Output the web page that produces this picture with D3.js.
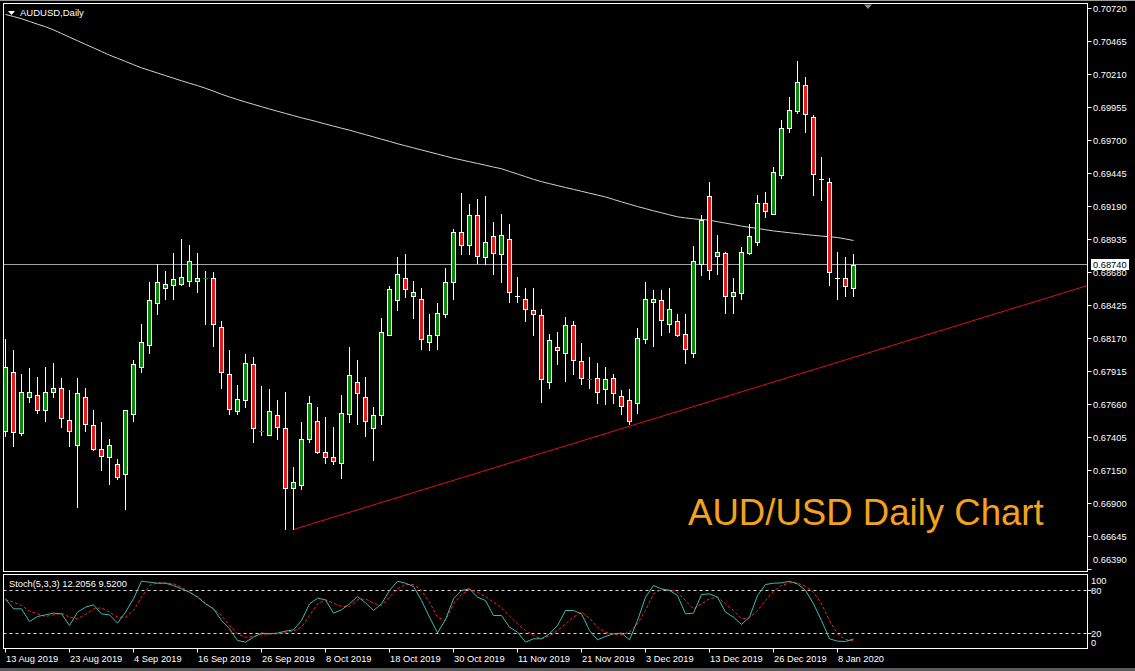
<!DOCTYPE html>
<html><head><meta charset="utf-8">
<script src="https://cdn.jsdelivr.net/npm/d3@7"></script>
<style>html,body{margin:0;padding:0;background:#000;overflow:hidden}svg{display:block}</style>
</head><body><svg id="c" width="1135" height="671"></svg>
<script>
const symbolTitle = "AUDUSD,Daily";
const chartLabel = "AUD/USD Daily Chart";
const stochTitle = "Stoch(5,3,3) 12.2056 9.5200";
const firstDay = "2019-08-13";
const holidays = ["2019-12-25", "2020-01-01"];

const open = [0.67462,0.67910,0.67439,0.67717,0.67740,0.67617,0.67756,0.67794,0.67547,0.67354,
0.67717,0.67501,0.67316,0.67254,0.67207,0.67130,0.67586,0.67949,0.68126,0.68443,
0.68566,0.68589,0.68597,0.68620,0.68620,0.68628,0.68643,0.68265,0.67895,0.67609,
0.67694,0.67979,0.67454,0.67431,0.67578,0.67485,0.67022,0.67045,0.67393,0.67532,
0.67300,0.67261,0.67215,0.67593,0.67840,0.67717,0.67485,0.67578,0.68203,0.68466,
0.68643,0.68504,0.68481,0.68142,0.68203,0.68358,0.68612,0.68991,0.68898,0.69122,
0.68805,0.68960,0.68821,0.68944,0.68504,0.68481,0.68389,0.68350,0.67840,0.68103,
0.68064,0.68273,0.67995,0.67856,0.67871,0.67779,0.67864,0.67725,0.67694,0.67671,
0.68172,0.68458,0.68466,0.68288,0.68304,0.68211,0.68064,0.68751,0.69269,0.68813,
0.68829,0.68497,0.68520,0.68836,0.68914,0.69215,0.69137,0.69431,0.69794,0.69925,
0.70126,0.69886,0.69400,0.69377,0.68643,0.68643,0.68566];
const high = [0.68172,0.68080,0.67895,0.67941,0.67879,0.67949,0.67987,0.67864,0.67771,0.67871,
0.67794,0.67617,0.67524,0.67393,0.67246,0.67624,0.68003,0.68288,0.68605,0.68751,
0.68697,0.68836,0.68937,0.68898,0.68829,0.68690,0.68682,0.68304,0.68080,0.67810,
0.68049,0.68026,0.67802,0.67786,0.67694,0.67763,0.67177,0.67524,0.67732,0.67647,
0.67563,0.67493,0.67740,0.68103,0.68010,0.67879,0.67640,0.68327,0.68574,0.68798,
0.68821,0.68620,0.68566,0.68358,0.68450,0.68713,0.69014,0.69292,0.69207,0.69246,
0.69276,0.69068,0.69130,0.69060,0.68651,0.68566,0.68566,0.68404,0.68211,0.68219,
0.68342,0.68304,0.68134,0.68026,0.67987,0.67949,0.67902,0.67771,0.67786,0.68257,
0.68612,0.68543,0.68543,0.68566,0.68365,0.68365,0.68890,0.69122,0.69377,0.68968,
0.68844,0.68636,0.68875,0.69060,0.69284,0.69300,0.69493,0.69863,0.70033,0.70311,
0.70195,0.69894,0.69570,0.69415,0.68844,0.68798,0.68821];
const low = [0.67416,0.67339,0.67431,0.67686,0.67601,0.67532,0.67717,0.67493,0.67346,0.66875,
0.67462,0.67308,0.67161,0.67053,0.67084,0.66860,0.67539,0.67910,0.68057,0.68365,
0.68481,0.68474,0.68589,0.68574,0.68528,0.68288,0.68111,0.67794,0.67593,0.67586,
0.67640,0.67377,0.67431,0.67424,0.67400,0.66698,0.66698,0.67014,0.67370,0.67285,
0.67215,0.67207,0.67092,0.67524,0.67509,0.67416,0.67231,0.67509,0.68196,0.68389,
0.68489,0.68327,0.68095,0.68080,0.68095,0.68342,0.68474,0.68821,0.68821,0.68759,
0.68751,0.68674,0.68605,0.68458,0.68458,0.68311,0.68196,0.67686,0.67794,0.67972,
0.67848,0.67895,0.67825,0.67794,0.67671,0.67663,0.67678,0.67586,0.67516,0.67601,
0.68134,0.68118,0.68196,0.68219,0.68188,0.67987,0.68026,0.68659,0.68628,0.68674,
0.68373,0.68373,0.68481,0.68821,0.68898,0.69107,0.69130,0.69408,0.69763,0.69917,
0.69770,0.69284,0.69238,0.68582,0.68481,0.68497,0.68504];
const close = [0.67956,0.67454,0.67756,0.67756,0.67624,0.67763,0.67794,0.67555,0.67462,0.67748,
0.67516,0.67316,0.67269,0.67354,0.67107,0.67617,0.67972,0.68142,0.68466,0.68605,
0.68597,0.68628,0.68651,0.68767,0.68643,0.68643,0.68288,0.67910,0.67632,0.67709,
0.67987,0.67478,0.67462,0.67609,0.67493,0.67022,0.67061,0.67400,0.67671,0.67300,
0.67261,0.67223,0.67601,0.67887,0.67748,0.67539,0.67578,0.68219,0.68551,0.68667,
0.68558,0.68535,0.68165,0.68203,0.68373,0.68612,0.68991,0.68898,0.69122,0.68813,
0.68921,0.68829,0.68975,0.68535,0.68504,0.68404,0.68365,0.67856,0.68157,0.68080,
0.68273,0.68010,0.67864,0.67857,0.67763,0.67856,0.67748,0.67655,0.67539,0.68180,
0.68481,0.68481,0.68319,0.68404,0.68203,0.68095,0.68767,0.69091,0.68705,0.68844,
0.68504,0.68535,0.68844,0.68960,0.69222,0.69153,0.69454,0.69794,0.69933,0.70156,
0.69902,0.69446,0.69400,0.68682,0.68643,0.68574,0.68740];
const movingAverage = [0.70674,0.70658,0.70641,0.70620,0.70599,0.70579,0.70555,0.70527,0.70499,0.70471,
0.70443,0.70416,0.70388,0.70360,0.70336,0.70311,0.70286,0.70262,0.70242,0.70222,
0.70202,0.70182,0.70162,0.70143,0.70125,0.70104,0.70082,0.70058,0.70037,0.70017,
0.69998,0.69980,0.69962,0.69944,0.69927,0.69910,0.69893,0.69876,0.69861,0.69845,
0.69828,0.69812,0.69796,0.69781,0.69763,0.69746,0.69729,0.69711,0.69694,0.69676,
0.69660,0.69644,0.69628,0.69612,0.69596,0.69580,0.69564,0.69551,0.69537,0.69524,
0.69510,0.69496,0.69483,0.69462,0.69442,0.69422,0.69401,0.69383,0.69368,0.69353,
0.69338,0.69324,0.69309,0.69294,0.69280,0.69265,0.69246,0.69227,0.69209,0.69191,
0.69175,0.69158,0.69143,0.69127,0.69112,0.69103,0.69096,0.69091,0.69086,0.69074,
0.69063,0.69052,0.69040,0.69031,0.69022,0.69012,0.69003,0.68996,0.68989,0.68982,
0.68975,0.68969,0.68963,0.68958,0.68952,0.68941,0.68929];
const stochK = [68.4,54.4,54.4,36.7,43.7,46,48.4,47.4,31.2,49.8,
56.7,60,47.4,46,34.4,49.8,68.4,93,91.6,90.2,
90.2,87,82.3,77.7,70.7,61.4,54.4,38.1,26.5,10.2,
7.9,14.9,20.5,19.5,20.5,23.3,25.1,38.1,61.4,69.3,
67,48.4,53,61.4,71.6,62.8,52.1,61.4,80,93,
90.2,85.6,66,42.8,20.9,39.5,68.4,80,82.3,70.7,
66,45.1,45.1,28.8,21.9,7.9,12.6,12.6,19.5,31.2,
52.1,52.1,47.4,24.2,11.2,15.8,19.5,20.5,11.2,38.1,
70.7,87,82.3,80,73,47.4,48.4,74.4,75.3,70.7,
49.8,42.8,32.6,42.8,73,88.4,90.2,90.7,93,89.3,
80,61.4,38.1,12.6,9.3,8.8,12.2056];
const stochD = [67,63.7,59.1,51.2,47.4,43.7,46,48.4,42.8,40.5,
46.5,54.4,55.8,49.8,42.8,42.8,52.1,70.7,87,90.7,
90.7,89.3,84.7,77.7,71.6,62.3,54.4,45.1,31.2,19.5,
14.9,15.8,18.6,19.5,19.5,21.9,23.3,28.8,45.1,61.4,
67,62.3,57.7,57.7,67,68.4,62.3,59.1,70.7,82.3,
88.4,88.4,80,63.7,42.8,38.1,61.4,74.4,81.4,77.7,
71.6,63.7,55.8,44.2,33.5,24.2,17.2,12.6,16.7,24.2,
33.5,42.8,49.8,41.4,28.8,21.9,18.6,18.6,21.4,33.5,
52.1,75.3,81.4,80.9,77.7,66,54.4,61.4,68.4,70.7,
61.4,52.1,40.5,41.9,52.1,66,79.1,87,90.7,90.7,
85.6,77.7,61.4,38.1,19.5,11.6,9.52];
const priceTicks = ["0.70720","0.70465","0.70210","0.69955","0.69700","0.69445","0.69190","0.68935","0.68680","0.68425","0.68170","0.67915","0.67660","0.67405","0.67150","0.66900","0.66645","0.66390"];
const dateTicks = ["13 Aug 2019","23 Aug 2019","4 Sep 2019","16 Sep 2019","26 Sep 2019","8 Oct 2019","18 Oct 2019","30 Oct 2019","11 Nov 2019","21 Nov 2019","3 Dec 2019","13 Dec 2019","26 Dec 2019","8 Jan 2020"];
const stochLevels = [80, 20];
const stochAxisLabels = ["100", "80", "20", "0"];
const bidPrice = 0.68740;
const trendAnchors = [{bar: 36, price: 0.66698}, {bar: 78, price: 0.67495}];

// ---- trading-day categories ----
const dates = [];
{
  const d = new Date(firstDay + "T00:00:00Z");
  while (dates.length < open.length) {
    const dow = d.getUTCDay();
    const iso = d.toISOString().slice(0, 10);
    if (dow !== 0 && dow !== 6 && !holidays.includes(iso)) dates.push(new Date(d));
    d.setUTCDate(d.getUTCDate() + 1);
  }
}
const fmt = d3.utcFormat("%-d %b %Y");
const dateLabels = dates.map(fmt);

// ---- layout ----
const W = 1135, H = 671;
const L = 3.5, R = 1087.5, mainTop = 3.5, mainBot = 571.5, stTop = 574.5, stBot = 648.5;
const FONT = "'Liberation Sans', Arial, sans-serif";

const x = d3.scaleLinear().domain([0, open.length - 1]).range([5.5, 5.5 + 8 * (open.length - 1)]);
const y = d3.scaleLinear().domain([0.66390, 0.70720]).range([8.5 + 0.0433 / 0.0000772, 8.5]);
const ys = d3.scaleLinear().domain([0, 100]).range([647.8, 576.2]);

const svg = d3.select("#c");
svg.append("rect").attr("width", W).attr("height", H).attr("fill", "#000");
svg.append("rect").attr("x", 0).attr("y", 0).attr("width", W).attr("height", 1).attr("fill", "#9a9a9a");
svg.append("rect").attr("x", 0).attr("y", 668).attr("width", W).attr("height", 3).attr("fill", "#5a5a5a");

const defs = svg.append("defs");
defs.append("clipPath").attr("id", "cm").append("rect")
  .attr("x", L + 0.5).attr("y", mainTop + 0.5).attr("width", R - L - 1).attr("height", mainBot - mainTop - 1);
defs.append("clipPath").attr("id", "cs").append("rect")
  .attr("x", L + 0.5).attr("y", stTop + 0.5).attr("width", R - L - 1).attr("height", stBot - stTop - 1);

// ---- main panel ----
const gm = svg.append("g").attr("clip-path", "url(#cm)");
const crisp = v => Math.round(v - 0.5) + 0.5;

// bid line
const yBid = crisp(y(bidPrice));
gm.append("line").attr("x1", L).attr("x2", R).attr("y1", yBid).attr("y2", yBid)
  .attr("stroke", "#a4a4a8").attr("stroke-width", 1);

// moving average
gm.append("path").datum(d3.range(movingAverage.length))
  .attr("d", d3.line().x(i => x(i)).y(i => y(movingAverage[i])))
  .attr("fill", "none").attr("stroke", "#d2d2d2").attr("stroke-width", 1);

// trend line (ray)
{
  const a = trendAnchors[0], b = trendAnchors[1];
  const endBar = x.invert(R);
  const endPrice = a.price + (b.price - a.price) * (endBar - a.bar) / (b.bar - a.bar);
  gm.append("line").attr("x1", x(a.bar)).attr("y1", y(a.price)).attr("x2", x(endBar)).attr("y2", y(endPrice))
    .attr("stroke", "#e01010").attr("stroke-width", 1);
}

// candles
const GREEN = "#0a8a0a", RED = "#e81818";
d3.range(open.length).forEach(i => {
  const cx = crisp(x(i));
  const yh = Math.round(y(high[i])), yl = Math.round(y(low[i]));
  gm.append("line").attr("x1", cx).attr("x2", cx).attr("y1", yh).attr("y2", yl + 1)
    .attr("stroke", "#fff").attr("stroke-width", 1);
  const yo = Math.round(y(open[i])), yc = Math.round(y(close[i]));
  const top = Math.min(yo, yc), bot = Math.max(yo, yc);
  const up = close[i] >= open[i];
  if (open[i] === close[i]) {
    gm.append("line").attr("x1", cx - 2.5).attr("x2", cx + 2.5).attr("y1", top + 0.5).attr("y2", top + 0.5)
      .attr("stroke", "#fff");
  } else if (bot - top < 2) {
    gm.append("line").attr("x1", cx - 2.5).attr("x2", cx + 2.5).attr("y1", top + 0.5).attr("y2", top + 0.5)
      .attr("stroke", up ? GREEN : RED);
  } else {
    gm.append("rect").attr("x", cx - 2).attr("y", top + 0.5).attr("width", 4).attr("height", bot - top)
      .attr("fill", up ? GREEN : RED).attr("stroke", "#fff").attr("stroke-width", 1);
  }
});

// frame
svg.append("rect").attr("x", L).attr("y", mainTop).attr("width", R - L).attr("height", mainBot - mainTop)
  .attr("fill", "none").attr("stroke", "#fff");

// title
svg.append("path").attr("d", "M8,11 L15,11 L11.5,15 Z").attr("fill", "#fff");
svg.append("text").attr("x", 20).attr("y", 16).attr("fill", "#fff")
  .attr("font-family", FONT).attr("font-size", 9.5).text(symbolTitle);
// chart shift marker
svg.append("path").attr("d", "M864,4.5 L872,4.5 L868,9 Z").attr("fill", "#8a8a8a");

// big label
svg.append("text").attr("x", 688).attr("y", 525).attr("fill", "#f2a21c")
  .attr("font-family", FONT).attr("font-size", 36.6).text(chartLabel);

// price axis
priceTicks.forEach(t => {
  const v = +t;
  const yy = crisp(y(v));
  if (yy < mainBot) {
    svg.append("line").attr("x1", R).attr("x2", R + 4).attr("y1", yy).attr("y2", yy).attr("stroke", "#fff");
  }
  svg.append("text").attr("x", 1093).attr("y", Math.min(yy, 560)).attr("dy", "0.35em")
    .attr("fill", "#fff").attr("font-family", FONT).attr("font-size", 9.3).text(t);
});
// bid label
svg.append("rect").attr("x", 1091).attr("y", yBid - 5.5).attr("width", 38).attr("height", 11).attr("fill", "#fff");
svg.append("text").attr("x", 1093).attr("y", yBid).attr("dy", "0.35em").attr("fill", "#000")
  .attr("font-family", FONT).attr("font-size", 9.3).text(d3.format(".5f")(bidPrice));

// ---- stochastic panel ----
const gs = svg.append("g").attr("clip-path", "url(#cs)");
stochLevels.forEach(lv => {
  const yy = crisp(ys(lv));
  gs.append("line").attr("x1", L).attr("x2", R).attr("y1", yy).attr("y2", yy)
    .attr("stroke", "#d8d8d8").attr("stroke-dasharray", "3,3");
});
gs.append("path").datum(d3.range(stochD.length))
  .attr("d", d3.line().x(i => x(i)).y(i => ys(stochD[i])))
  .attr("fill", "none").attr("stroke", "#ff2020").attr("stroke-dasharray", "3,2");
gs.append("path").datum(d3.range(stochK.length))
  .attr("d", d3.line().x(i => x(i)).y(i => ys(stochK[i])))
  .attr("fill", "none").attr("stroke", "#3cbcb0");
svg.append("rect").attr("x", L).attr("y", stTop).attr("width", R - L).attr("height", stBot - stTop)
  .attr("fill", "none").attr("stroke", "#fff");
svg.append("text").attr("x", 9).attr("y", 587).attr("fill", "#fff")
  .attr("font-family", FONT).attr("font-size", 9.3).text(stochTitle);
stochAxisLabels.forEach(t => {
  const yy = ys(+t);
  if (t === "80" || t === "20") {
    svg.append("line").attr("x1", R).attr("x2", R + 4).attr("y1", crisp(yy)).attr("y2", crisp(yy)).attr("stroke", "#fff");
  }
  svg.append("text").attr("x", 1091).attr("y", yy + (t === "100" ? 5 : t === "0" ? -5 : 0)).attr("dy", "0.35em")
    .attr("fill", "#fff").attr("font-family", FONT).attr("font-size", 9.3).text(t);
});

// ---- date axis ----
dateTicks.forEach(lbl => {
  const i = dateLabels.indexOf(lbl);
  if (i < 0) return;
  const xx = crisp(x(i));
  svg.append("line").attr("x1", xx).attr("x2", xx).attr("y1", stBot).attr("y2", stBot + 4).attr("stroke", "#fff");
  svg.append("text").attr("x", xx + 0.5).attr("y", 662).attr("fill", "#fff")
    .attr("font-family", FONT).attr("font-size", 9.3).text(lbl);
});
</script>
</body></html>
